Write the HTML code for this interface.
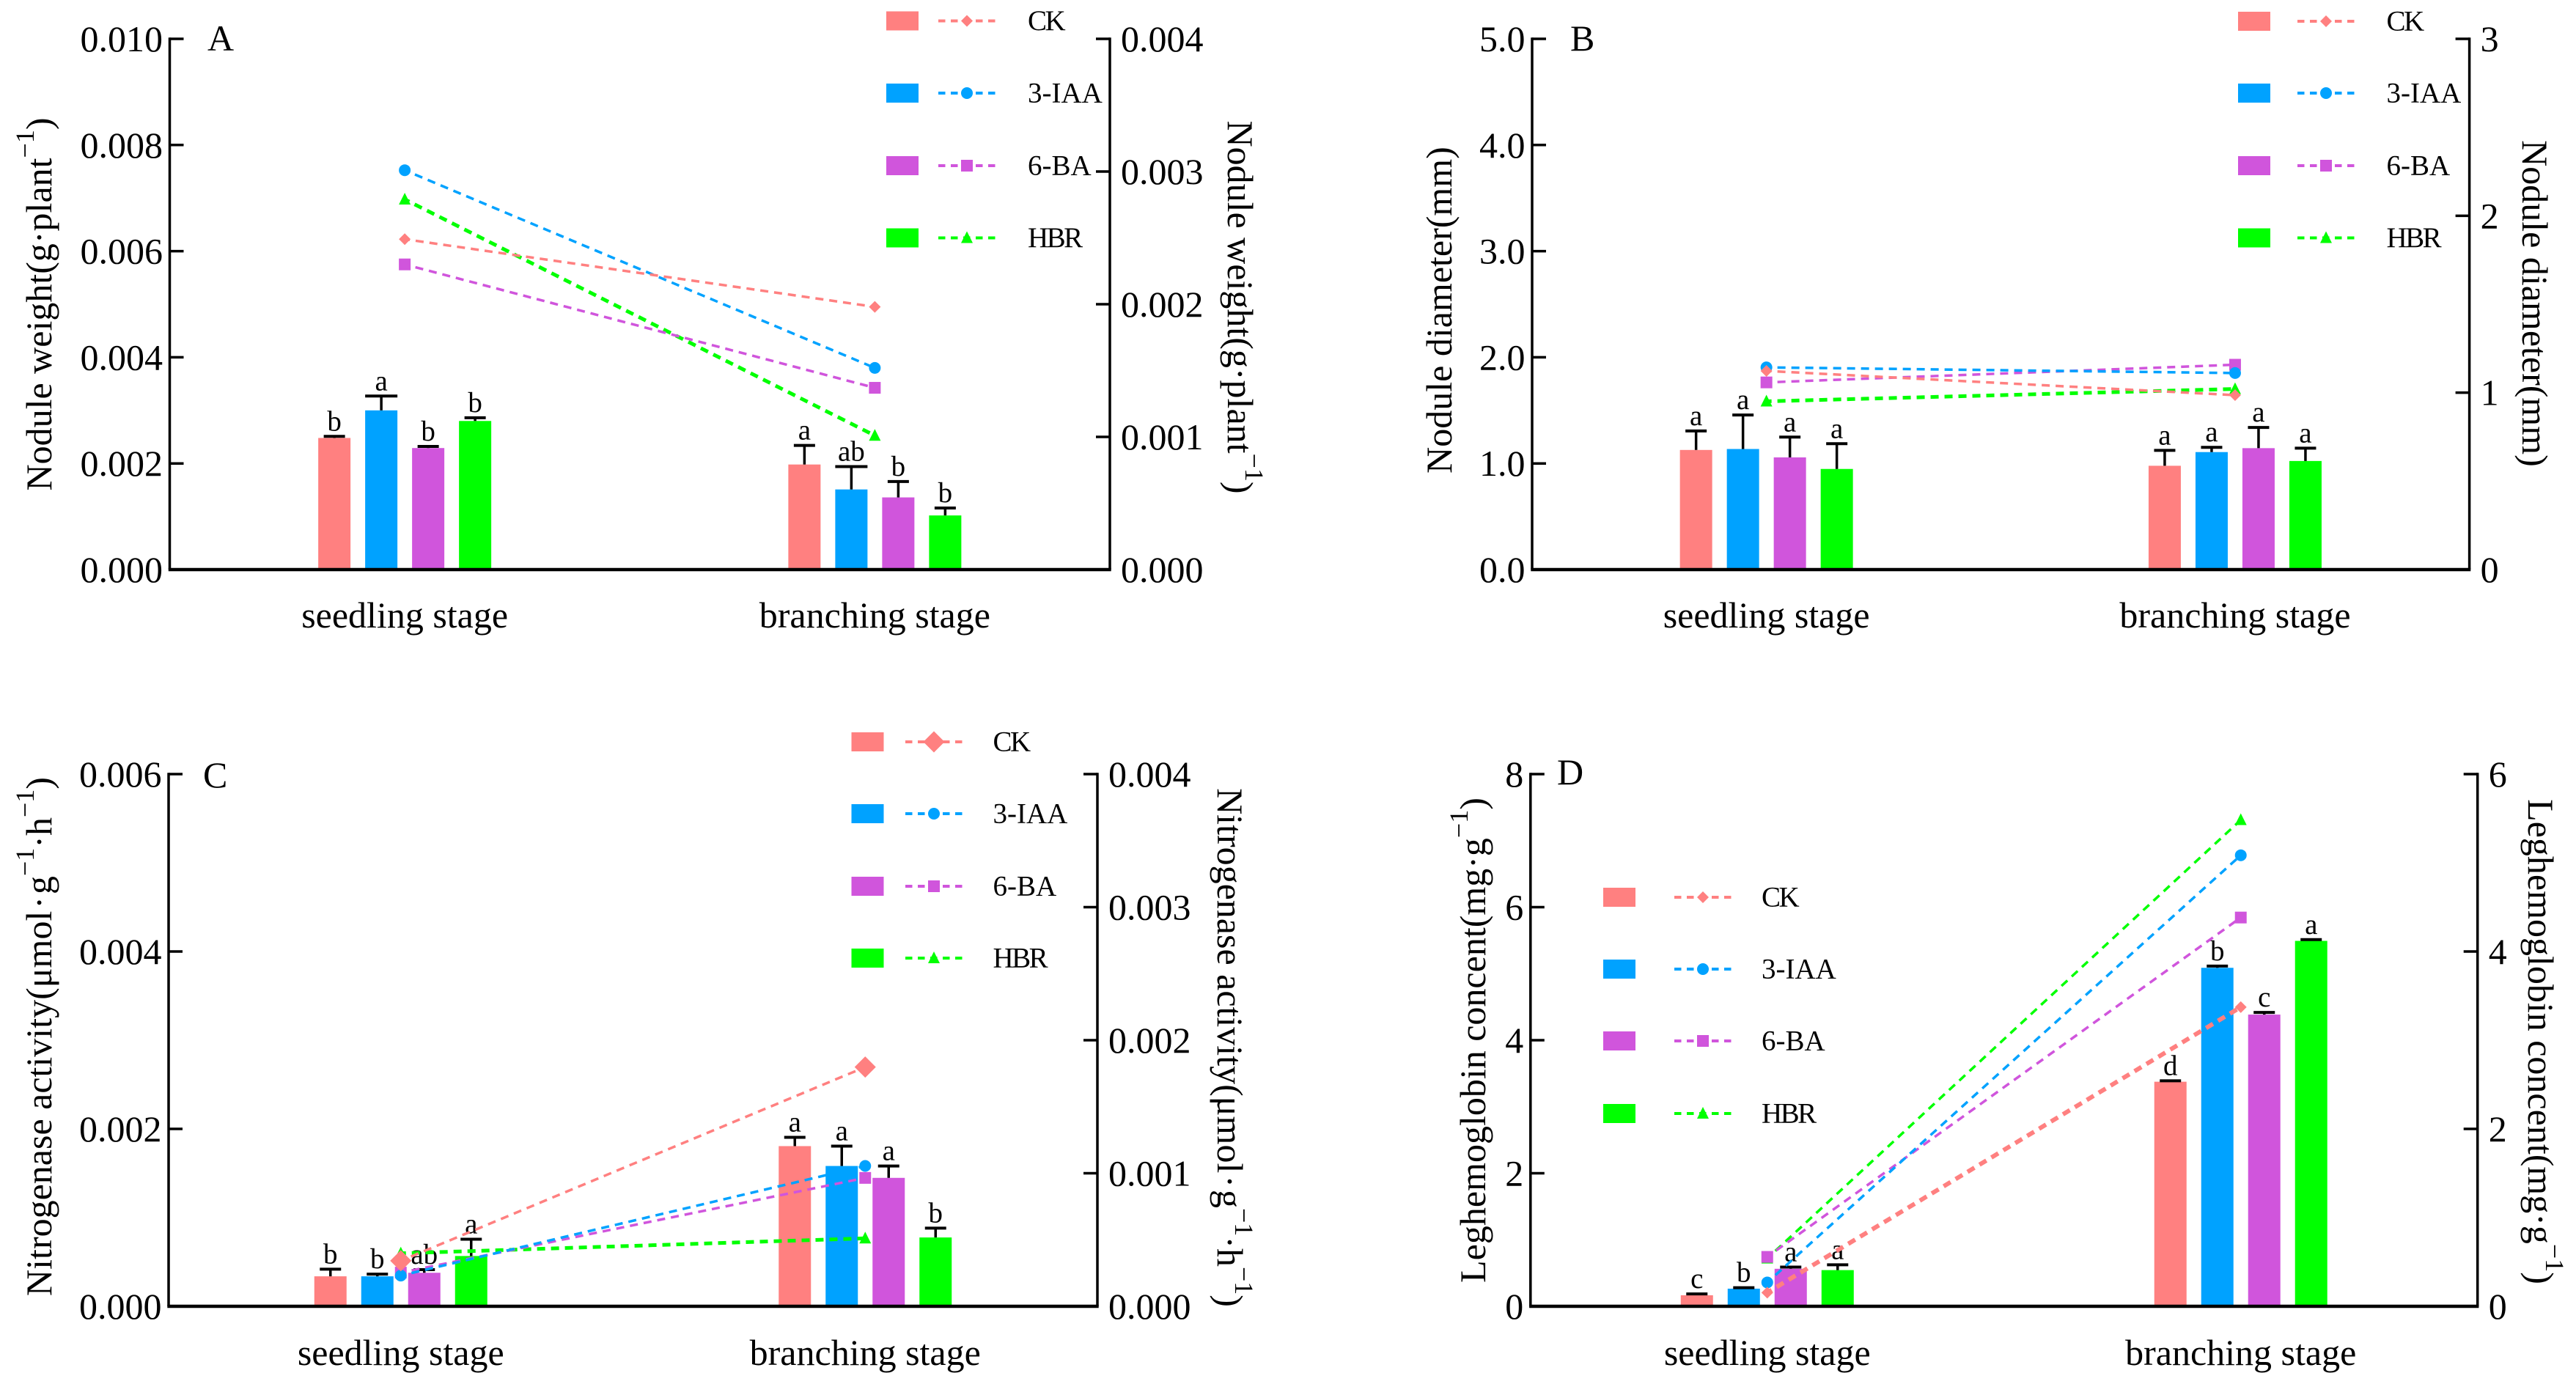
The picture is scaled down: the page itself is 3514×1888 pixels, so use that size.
<!DOCTYPE html>
<html lang="en">
<head>
<meta charset="utf-8">
<title>Nodule traits at seedling and branching stages</title>
<style>
html,body{margin:0;padding:0;background:#fff;}
svg{display:block;}
text{font-family:"Liberation Serif","Noto Serif CJK SC",serif;fill:#000;}
.t{font-size:50px;}
</style>
</head>
<body>
<svg id="figure" xmlns="http://www.w3.org/2000/svg" width="3514" height="1888" viewBox="0 0 3514 1888">
<rect width="3514" height="1888" fill="#fff"/>
<g id="static-text">
<text class="t" x="283" y="69">A</text>
<text class="t" x="2142" y="69">B</text>
<text class="t" x="277" y="1074">C</text>
<text class="t" x="2124" y="1070">D</text>

<text class="t" text-anchor="middle" transform="translate(70,415) rotate(-90)">Nodule weight(g·plant<tspan dy="-24" font-size="36">−1</tspan><tspan dy="24">)</tspan></text>
<text class="t" text-anchor="middle" transform="translate(1675,419) rotate(90)">Nodule weight(g·plant<tspan dy="-24" font-size="36">−1</tspan><tspan dy="24">)</tspan></text>

<text class="t" text-anchor="middle" transform="translate(1980,423) rotate(-90)">Nodule diameter(mm)</text>
<text class="t" text-anchor="middle" transform="translate(3441,414) rotate(90)">Nodule diameter(mm)</text>

<text class="t" text-anchor="middle" transform="translate(70,1414) rotate(-90)">Nitrogenase activity(μmol<tspan dx="3">·</tspan><tspan dx="3">g</tspan><tspan dy="-24" font-size="36">−1</tspan><tspan dy="24">·</tspan><tspan>h</tspan><tspan dy="-24" font-size="36">−1</tspan><tspan dy="24">)</tspan></text>
<text class="t" text-anchor="middle" transform="translate(1661,1429) rotate(90)">Nitrogenase activity(μmol<tspan dx="3">·</tspan><tspan dx="3">g</tspan><tspan dy="-24" font-size="36">−1</tspan><tspan dy="24">·</tspan><tspan>h</tspan><tspan dy="-24" font-size="36">−1</tspan><tspan dy="24">)</tspan></text>

<text class="t" text-anchor="middle" transform="translate(2026,1419) rotate(-90)">Leghemoglobin concent(mg·g<tspan dy="-24" font-size="36">−1</tspan><tspan dy="24">)</tspan></text>
<text class="t" text-anchor="middle" transform="translate(3449,1421) rotate(90)">Leghemoglobin concent(mg·g<tspan dy="-24" font-size="36">−1</tspan><tspan dy="24">)</tspan></text>
</g>
</svg>
<script>
// ---------- shared categories ----------
const stages = ['seedling stage', 'branching stage'];
const seriesNames = ['CK', '3-IAA', '6-BA', 'HBR'];

// ---------- panel A ----------
const aLeftTicks = ['0.000', '0.002', '0.004', '0.006', '0.008', '0.010'];
const aRightTicks = ['0.000', '0.001', '0.002', '0.003', '0.004'];
const aBarsSeedling = [0.00248, 0.00300, 0.00229, 0.00280];
const aBarsBranching = [0.00198, 0.00151, 0.00136, 0.00102];
const aErrSeedling = [0.00251, 0.00327, 0.00232, 0.00286];
const aErrBranching = [0.00234, 0.00194, 0.00166, 0.00116];
const aLinesSeedling = [0.00249, 0.00301, 0.00230, 0.00279];
const aLinesBranching = [0.00198, 0.00152, 0.00137, 0.00101];
const aLettersSeedling = ['b', 'a', 'b', 'b'];
const aLettersBranching = ['a', 'ab', 'b', 'b'];

// ---------- panel B ----------
const bLeftTicks = ['0.0', '1.0', '2.0', '3.0', '4.0', '5.0'];
const bRightTicks = ['0', '1', '2', '3'];
const bBarsSeedling = [1.127, 1.136, 1.057, 0.948];
const bBarsBranching = [0.978, 1.107, 1.144, 1.023];
const bErrSeedling = [1.306, 1.456, 1.248, 1.186];
const bErrBranching = [1.123, 1.152, 1.339, 1.144];
const bLinesSeedling = [1.123, 1.143, 1.058, 0.951];
const bLinesBranching = [0.986, 1.111, 1.158, 1.021];
const bLettersSeedling = ['a', 'a', 'a', 'a'];
const bLettersBranching = ['a', 'a', 'a', 'a'];

// ---------- panel C ----------
const cLeftTicks = ['0.000', '0.002', '0.004', '0.006'];
const cRightTicks = ['0.000', '0.001', '0.002', '0.003', '0.004'];
const cBarsSeedling = [0.000338, 0.000338, 0.000378, 0.000567];
const cBarsBranching = [0.001806, 0.001582, 0.001448, 0.000776];
const cErrSeedling = [0.000418, 0.000363, 0.000413, 0.000756];
const cErrBranching = [0.001905, 0.001806, 0.001582, 0.000881];
const cLinesSeedling = [0.000342, 0.000231, 0.000253, 0.000398];
const cLinesBranching = [0.001798, 0.001055, 0.000965, 0.000511];
const cLettersSeedling = ['b', 'b', 'ab', 'a'];
const cLettersBranching = ['a', 'a', 'a', 'b'];

// ---------- panel D ----------
const dLeftTicks = ['0', '2', '4', '6', '8'];
const dRightTicks = ['0', '2', '4', '6'];
const dBarsSeedling = [0.166, 0.265, 0.564, 0.544];
const dBarsBranching = [3.376, 5.088, 4.385, 5.493];
const dErrSeedling = [0.186, 0.279, 0.590, 0.624];
const dErrBranching = [3.390, 5.114, 4.418, 5.512];
const dLinesSeedling = [0.154, 0.269, 0.557, 0.540];
const dLinesBranching = [3.373, 5.085, 4.383, 5.483];
const dLettersSeedling = ['c', 'b', 'a', 'a'];
const dLettersBranching = ['d', 'b', 'c', 'a'];

// ---------- drawing ----------
const SVGNS = 'http://www.w3.org/2000/svg';
const figure = document.getElementById('figure');
const colors = ['#ff8080', '#00a2ff', '#d055dc', '#00ff00'];
const slugs = ['ck', 'iaa', 'ba', 'hbr'];
const shapes = ['diamond', 'circle', 'square', 'triangle'];

function make(tag, attrs, parent) {
  const node = document.createElementNS(SVGNS, tag);
  for (const k in attrs) node.setAttribute(k, attrs[k]);
  parent.appendChild(node);
  return node;
}

function drawMarker(kind, cx, cy, size, color, parent) {
  const h = size / 2;
  if (kind === 'circle') return make('circle', {cx: cx, cy: cy, r: h, fill: color}, parent);
  if (kind === 'square') return make('rect', {x: cx - h, y: cy - h, width: size, height: size, fill: color}, parent);
  let pts;
  if (kind === 'diamond') pts = [[cx, cy - h], [cx + h, cy], [cx, cy + h], [cx - h, cy]];
  else pts = [[cx, cy - h - 1], [cx + h, cy + h - 1], [cx - h, cy + h - 1]];
  return make('polygon', {points: pts.map(p => p.join(',')).join(' '), fill: color}, parent);
}

function drawPanel(p) {
  const g = make('g', {}, figure);
  
  

  const leftMax = parseFloat(p.leftTicks[p.leftTicks.length - 1]);
  const rightMax = parseFloat(p.rightTicks[p.rightTicks.length - 1]);
  const yLeft = v => p.y1 - (v / leftMax) * (p.y1 - p.y0);
  const yRight = v => p.y1 - (v / rightMax) * (p.y1 - p.y0);
  const xCat = i => p.x0 + (p.x1 - p.x0) * (i === 0 ? 0.25 : 0.75);
  const xBar = (i, s) => xCat(i) + (s - 1.5) * 64;

  // bars and error bars
  [p.bars0, p.bars1].forEach((vals, i) => {
    vals.forEach((v, s) => {
      const bar = make('rect', {x: xBar(i, s) - 22, y: yLeft(v), width: 44, height: p.y1 - yLeft(v), fill: colors[s]}, g);
      
      
    });
  });
  [p.errs0, p.errs1].forEach((vals, i) => {
    vals.forEach((v, s) => {
      const cx = xBar(i, s);
      const top = yLeft(v);
      const base = yLeft((i === 0 ? p.bars0 : p.bars1)[s]);
      const capW = (p.key === 'a' && s === 1) ? 44 : 29;
      const eg = make('g', {stroke: '#000', fill: 'none'}, g);
      
      
      make('line', {x1: cx, x2: cx, y1: top, y2: base, 'stroke-width': 3.5}, eg);
      make('line', {x1: cx - capW / 2, x2: cx + capW / 2, y1: top, y2: top, 'stroke-width': 4}, eg);
      const lab = make('text', {x: cx, y: top - 8, 'text-anchor': 'middle', 'font-size': 39}, g);
      lab.textContent = (i === 0 ? p.letters0 : p.letters1)[s];
      
      
    });
  });

  // axes
  const axisAttrs = {stroke: '#000', 'stroke-width': 3.5};
  const leftAxis = make('line', Object.assign({x1: p.x0, x2: p.x0, y1: p.y0 - 1.7, y2: p.y1}, axisAttrs), g);
  
  
  const rightAxis = make('line', Object.assign({x1: p.x1, x2: p.x1, y1: p.y0 - 1.7, y2: p.y1}, axisAttrs), g);
  
  
  const xAxis = make('line', {x1: p.x0 - 1.7, x2: p.x1 + 1.7, y1: p.y1, y2: p.y1, stroke: '#000', 'stroke-width': 4.5}, g);
  
  

  p.leftTicks.forEach(label => {
    const y = yLeft(parseFloat(label));
    const tick = make('line', Object.assign({x1: p.x0, x2: p.x0 + 19, y1: y, y2: y}, axisAttrs), g);
    
    
    const txt = make('text', {x: p.x0 - 9.5, y: y + 17, 'text-anchor': 'end', 'font-size': 50}, g);
    txt.textContent = label;
    
    
  });
  p.rightTicks.forEach(label => {
    const y = yRight(parseFloat(label));
    const tick = make('line', Object.assign({x1: p.x1 - 19, x2: p.x1, y1: y, y2: y}, axisAttrs), g);
    
    
    const txt = make('text', {x: p.x1 + 15, y: y + 17, 'font-size': 50}, g);
    txt.textContent = label;
    
    
  });

  // category labels
  stages.forEach((name, i) => {
    const txt = make('text', {x: xCat(i), y: p.catY, 'text-anchor': 'middle', 'font-size': 50}, g);
    txt.textContent = name;
    
    
  });

  // lines and markers (right axis), HBR first so CK sits on top
  [3, 2, 1, 0].forEach(s => {
    const lg = make('g', {}, g);
    
    
    let thick = 3.5;
    if (p.key === 'd' && s === 0) thick = 6;
    if (p.key !== 'd' && s === 3) thick = 5;
    make('line', {
      x1: xCat(0), y1: yRight(p.lines0[s]),
      x2: xCat(1), y2: yRight(p.lines1[s]),
      stroke: colors[s], 'stroke-width': thick,
      'stroke-dasharray': '11 8', 'stroke-dashoffset': '-15'
    }, lg);
    const size = (p.key === 'c' && s === 0) ? 29 : 16;
    const m0 = drawMarker(shapes[s], xCat(0), yRight(p.lines0[s]), size, colors[s], lg);
    
    
    const m1 = drawMarker(shapes[s], xCat(1), yRight(p.lines1[s]), size, colors[s], lg);
    
    
  });

  // legend
  seriesNames.forEach((name, s) => {
    const y = p.legend.rows[s];
    const lg = make('g', {}, g);
    
    
    make('rect', {x: p.legend.sq, y: y - 13, width: 44, height: 26, fill: colors[s]}, lg);
    make('line', {x1: p.legend.ln, x2: p.legend.ln + 78, y1: y, y2: y, stroke: colors[s], 'stroke-width': 4, 'stroke-dasharray': '9.5 7.5'}, lg);
    drawMarker(shapes[s], p.legend.ln + 39, y, (p.key === 'c' && s === 0) ? 29 : 16, colors[s], lg);
    const txt = make('text', {x: p.legend.tx, y: y + 12.5, 'font-size': 39}, lg);
    if (name === 'CK' || name === 'HBR') txt.setAttribute('letter-spacing', '-2.5');
    txt.textContent = name;
  });
}

drawPanel({
  key: 'a', x0: 231.5, x1: 1514, y0: 53, y1: 777, catY: 856,
  leftTicks: aLeftTicks, rightTicks: aRightTicks,
  bars0: aBarsSeedling, bars1: aBarsBranching, errs0: aErrSeedling, errs1: aErrBranching,
  lines0: aLinesSeedling, lines1: aLinesBranching, letters0: aLettersSeedling, letters1: aLettersBranching,
  legend: {sq: 1209, ln: 1280, tx: 1402, rows: [28.5, 127, 226, 324.5]}
});
drawPanel({
  key: 'b', x0: 2090, x1: 3368.6, y0: 53, y1: 777, catY: 856,
  leftTicks: bLeftTicks, rightTicks: bRightTicks,
  bars0: bBarsSeedling, bars1: bBarsBranching, errs0: bErrSeedling, errs1: bErrBranching,
  lines0: bLinesSeedling, lines1: bLinesBranching, letters0: bLettersSeedling, letters1: bLettersBranching,
  legend: {sq: 3053, ln: 3134, tx: 3255.5, rows: [29, 127, 226, 324.5]}
});
drawPanel({
  key: 'c', x0: 230, x1: 1497, y0: 1056, y1: 1782, catY: 1862,
  leftTicks: cLeftTicks, rightTicks: cRightTicks,
  bars0: cBarsSeedling, bars1: cBarsBranching, errs0: cErrSeedling, errs1: cErrBranching,
  lines0: cLinesSeedling, lines1: cLinesBranching, letters0: cLettersSeedling, letters1: cLettersBranching,
  legend: {sq: 1161.5, ln: 1235, tx: 1354.5, rows: [1012, 1110, 1209, 1307]}
});
drawPanel({
  key: 'd', x0: 2087.8, x1: 3379.7, y0: 1056, y1: 1782, catY: 1862,
  leftTicks: dLeftTicks, rightTicks: dRightTicks,
  bars0: dBarsSeedling, bars1: dBarsBranching, errs0: dErrSeedling, errs1: dErrBranching,
  lines0: dLinesSeedling, lines1: dLinesBranching, letters0: dLettersSeedling, letters1: dLettersBranching,
  legend: {sq: 2187, ln: 2284, tx: 2403, rows: [1224, 1322, 1420, 1519]}
});
</script>
</body>
</html>
